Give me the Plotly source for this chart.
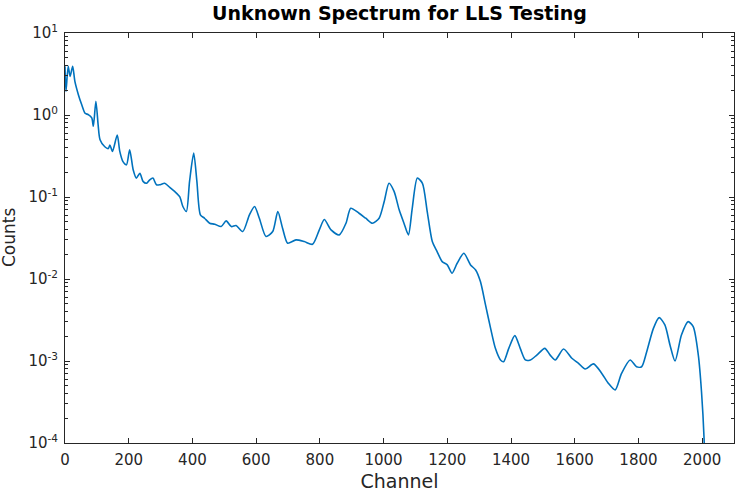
import plotly.graph_objects as go

channel = [0, 3, 10, 16, 24, 31, 42, 52, 63, 73,
           84, 89, 97, 104, 110, 125, 136, 141, 149, 164,
           172, 182, 193, 203, 214, 224, 235, 245, 256, 266,
           276, 287, 297, 313, 329, 344, 360, 370, 381, 391,
           404, 414, 425, 438, 454, 470, 490, 506, 522, 537,
           558, 579, 595, 610, 631, 652, 668, 683, 699, 725,
           751, 777, 798, 814, 835, 861, 882, 897, 923, 944,
           965, 986, 1002, 1017, 1033, 1049, 1064, 1078, 1090, 1106,
           1122, 1137, 1153, 1168, 1184, 1200, 1215, 1231, 1252, 1273,
           1289, 1304, 1320, 1336, 1351, 1367, 1377, 1393, 1412, 1429,
           1445, 1461, 1481, 1506, 1523, 1539, 1565, 1591, 1612, 1633,
           1659, 1685, 1706, 1727, 1747, 1774, 1794, 1810, 1826, 1847,
           1865, 1883, 1899, 1915, 1935, 1956, 1972, 1988, 1998, 2006,
           2012]

counts = [3.92, 1.94, 3.92, 2.96, 3.92, 2.57, 1.77, 1.35, 1.05, 1.01,
          0.92, 0.73, 1.47, 0.76, 0.50, 0.41, 0.39, 0.43, 0.36, 0.57,
          0.36, 0.27, 0.247, 0.377, 0.215, 0.170, 0.195, 0.155, 0.147, 0.162,
          0.170, 0.141, 0.141, 0.147, 0.131, 0.117, 0.101, 0.0766, 0.0665, 0.155,
          0.343, 0.155, 0.0607, 0.0551, 0.0479, 0.0466, 0.0436, 0.0512, 0.0436, 0.0449,
          0.0379, 0.0607, 0.0766, 0.0551, 0.033, 0.0379, 0.0665, 0.0416, 0.0273, 0.030,
          0.0286, 0.0265, 0.0395, 0.0531, 0.0398, 0.0345, 0.0479, 0.0729, 0.0634, 0.0551,
          0.0479, 0.0551, 0.0881, 0.147, 0.117, 0.0698, 0.0479, 0.0345, 0.0729, 0.170,
          0.147, 0.0665, 0.0286, 0.0216, 0.0163, 0.01485, 0.01175, 0.01556, 0.0206, 0.01485,
          0.0129, 0.0093, 0.00483, 0.0025, 0.001426, 0.00103, 0.00098, 0.001426, 0.00204, 0.001426,
          0.00103, 0.00103, 0.00118, 0.001426, 0.00118, 0.00103, 0.0014, 0.00108, 0.000935, 0.000798,
          0.000922, 0.000706, 0.000533, 0.000443, 0.000706, 0.00103, 0.000851, 0.000851, 0.0013, 0.0025,
          0.00338, 0.00275, 0.00157, 0.001, 0.00207, 0.00302, 0.00262, 0.00118, 0.000422, 0.000114,
          0.00001]

ytick_vals = [1e-4, 1e-3, 1e-2, 1e-1, 1e0, 1e1]
ytick_text = ["10<sup>-4</sup>", "10<sup>-3</sup>", "10<sup>-2</sup>",
              "10<sup>-1</sup>", "10<sup>0</sup>", "10<sup>1</sup>"]
yminor = [m * 10 ** e for e in range(-4, 1) for m in range(2, 10)]

AXC = "#262626"
FONT = "DejaVu Sans"

fig = go.Figure()
fig.add_trace(go.Scatter(
    x=channel, y=counts, mode="lines",
    line=dict(color="#0072BD", width=1.6, shape="spline", smoothing=0.7),
    showlegend=False, hoverinfo="skip",
))

fig.update_layout(
    width=742, height=498,
    margin=dict(l=65, r=8, t=33, b=55),
    paper_bgcolor="white", plot_bgcolor="white",
    font=dict(family=FONT, color=AXC, size=15),
    title=dict(text="Unknown Spectrum for LLS Testing",
               font=dict(family=FONT, size=19, weight="bold", color="black"),
               x=0.5, xref="paper", xanchor="center",
               y=1 - 13 / 498, yref="container", yanchor="middle"),
)

fig.update_xaxes(
    range=[0, 2100], tick0=0, dtick=200, automargin=False,
    showgrid=False, zeroline=False,
    showline=True, linecolor=AXC, linewidth=1, mirror="ticks",
    ticks="inside", ticklen=5, tickcolor=AXC,
    tickfont=dict(size=15, color=AXC), ticklabelstandoff=3,
    title=dict(text="Channel", font=dict(size=19, color=AXC), standoff=6),
)

fig.update_yaxes(
    type="log", range=[-4, 1], automargin=False,
    tickmode="array", tickvals=ytick_vals, ticktext=ytick_text,
    showgrid=False, zeroline=False,
    showline=True, linecolor=AXC, linewidth=1, mirror="ticks",
    ticks="inside", ticklen=5, tickcolor=AXC,
    tickfont=dict(size=15, color=AXC), ticklabelstandoff=3,
    minor=dict(tickmode="array", tickvals=yminor, ticks="inside",
               ticklen=3, tickcolor=AXC, showgrid=False),
)

# y-axis label, pushed to the far left edge as in the reference
fig.add_annotation(
    text="Counts", textangle=-90, showarrow=False,
    xref="paper", yref="paper", x=-0.0837, y=0.5,
    xanchor="center", yanchor="middle",
    font=dict(family=FONT, size=17, color=AXC),
)

fig.write_html("out.html")
